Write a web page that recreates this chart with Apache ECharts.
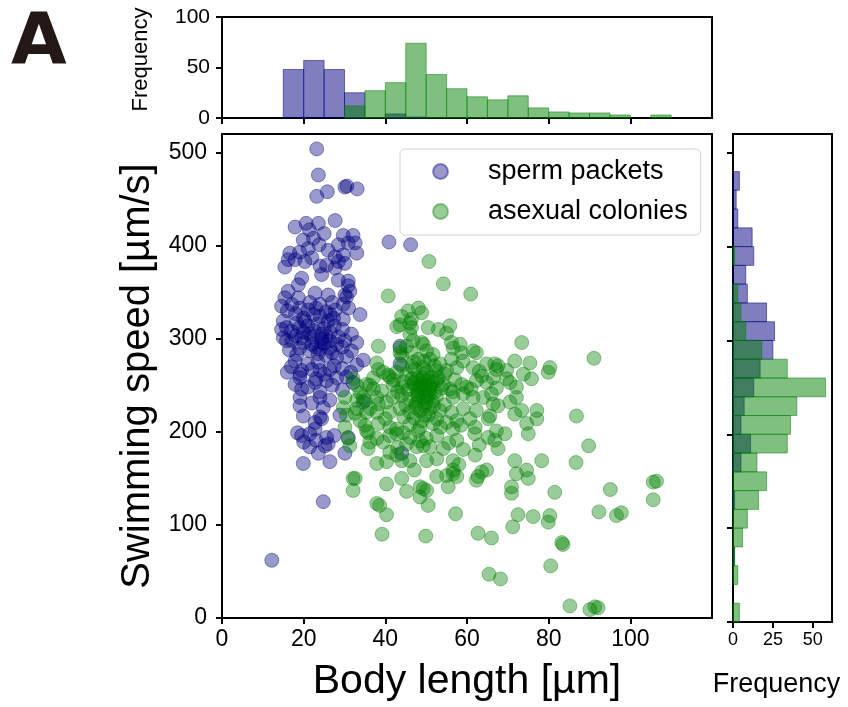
<!DOCTYPE html>
<html><head><meta charset="utf-8">
<script src="https://cdn.jsdelivr.net/npm/echarts@6/dist/echarts.min.js"></script>
<style>html,body{margin:0;padding:0;background:#fff}#main{width:848px;height:707px}</style>
</head><body><div id="main"></div>
<script>
// ---- data ----
const spermPackets = [
[23.2,504],[23.6,476],[30.1,463],[30.6,464],[33.1,461],[25.8,458],[23.2,453],
[27.7,427],[20.6,424],[23.6,424],
[17.9,420],[21.4,417],[25,413],[19.9,406],[22.4,408],[29.7,411],[32.1,411],[40.9,404],[46.2,401],[28.5,401],[30.9,403],[32.6,403],[23.8,401],
[16.6,392],[16.2,385],[17.9,385],[21.1,397],[22,387],[33,392],[27.7,388],[29.7,390],[20.3,383],[28.5,383],[30.1,381],[19,393],[26,395],
[15.4,377],[24,378],[25.6,379],[27.7,376],[24.4,369],[19.5,365],[28.5,363],[30.9,362],
[18.7,358],[30.9,357],[31.3,351],[30.1,347],[16.2,351],[15.4,344],[18.7,344],[22.8,349],[26,347],[30.5,345],
[14.6,335],[17.1,337],[19.1,333],[21.1,331],[24,337],[22.4,326],[29.7,337],[27.7,331],[33.8,326],[24,324],[27.3,322],[29.7,321],[16,330],[18,327],[20,322],[23,333],[25.5,329],[27,339],[31,333],[21.5,339],[26.5,326],
[15,319],[14.6,310],[15.8,312],[18.3,317],[20.3,319],[26,319],[31.7,305],[15,301],[19.5,301],[21.5,305],[24.4,305],[24.4,300],[17,308],[19,312],[21,314],[22.5,309],[23.5,316],[25,311],[26.5,307],[27.5,314],[28.5,302],[29.5,310],[22,302],[20,307],[25.5,303],[18,303],
[17.1,298],[26.4,298],[28.1,294],[30.1,298],[15.8,298],[18.3,283],[21.5,287],[24,289],[26.4,290],[24.4,296],[28.1,280],[30.5,281],[31.7,287],[43.6,292],[22,294],[23,291],[25,295],[20,296],[19,290],[27,285],[29.5,291],[33,296],[16.5,288],[23.5,284],[25.5,282],
[17.9,276],[34.6,277],[43.6,273],[19.5,266],[22,267],[24,266],[26.4,267],[19.1,262],[21,273],[23.5,275],[27.5,271],[29.5,268],[31.5,264],[25,262],[17,270],[33,272],[16,264],
[17.9,251],[19.5,246],[19.1,258],[22.8,253],[25.6,255],[28.1,258],[30.5,259],[32.1,253],[21,248],[24,243],[27,250],[29.5,245],[23,257],
[19.1,237],[19.1,228],[24,237],[26.4,234],[24.8,226],[34.6,232],[22,231],
[24,216],[22.8,210],[28.9,218],[19.9,217],[24.4,214],[22.8,203],
[19.5,196],[21.5,198],[25.6,194],[26,187],[21.5,184],[25.2,185],[30.9,194],[23,191],[20,189],[27.5,196],[18.5,199],
[23.6,177],[19.9,166],[26.4,168],[30.1,177],[44,177],
[24.8,125],[12.2,62]
];
const asexualColonies = [
[50.7,383],
[54.2,359],[60.9,348],[40.7,346],
[44,324],[45.6,330],[48.1,333],[48.9,328],[46.4,321],
[43.6,315],[46.4,312],[46,305],[50.5,312],[53,310],[55.8,314],[55,306],[42.8,313],[46,317],
[73.4,296],[38.3,292],[43.6,290],[46.8,298],[49.3,294],[51.7,283],[56.6,290],[58.3,294],[61.5,287],[43.6,285],[45.2,292],[46.4,285],[44,282],[48.9,296],[50.1,287],[56.2,296],[58.7,285],[62.3,285],
[91.1,279],[71.7,276],[75.4,274],[80.3,269],[64.8,273],[67.6,271],[69.7,266],[79.9,264],[48.1,278],[50.9,278],[53.4,273],[56.2,278],[55,266],[57.5,269],[61.5,269],[66.8,273],[38.3,267],[37.9,274],[40.7,261],[42.8,264],[45.2,262],[47.2,267],[49.3,269],[50.1,264],[52,271],[73.8,262],[67.2,267],[39.5,264],[44,271],[47,275],[52.5,266],[59,276],[63,265],[54.5,262],[46.5,270],[49.5,276],
[37.1,258],[63.6,260],[66.4,258],[36.2,250],[39.1,244],[41.9,251],[44,248],[46.8,251],[48.5,255],[50.9,250],[52.6,255],[54.2,251],[55.8,246],[58.7,251],[59.9,248],[62.3,255],[64.8,253],[67.2,247],[66,241],[47.7,241],[50.9,241],[59.1,241],[69.7,257],[75.8,257],[72.1,248],[70.5,253],
[32.1,257],[33,250],[33.8,242],[35.4,251],[37.1,246],[41.1,259],
[45.5,245],[46.5,257],[47.5,249],[48,244],[48.8,252],[49.2,258],[49.6,246],[50.3,255],[51,247],[51.6,253],[52.2,243],[53,258],[53.8,247],[44.5,254],[43,243],[47,253],[49.8,250],[51.4,259],[57,256],[61,246],[42,256],[56.5,243],[49,243],[50.6,244],[48.7,248],[47.8,257],[49.4,262],
[64,237],[61.5,237],[56.6,237],[30.1,237],[33,234],[34.6,237],[38.3,230],[40.3,232],[41.9,237],[44,239],[46,235],[49.3,237],[37.9,237],[35,234],[29.7,226],[33,225],[36.2,225],[37.9,221],[41.1,221],[43.6,225],[46,221],[48.5,223],[50.9,225],[53.4,223],[56.2,221],[59.1,225],[62.3,223],[66.4,230],[67.6,228],[70.5,232],[72.1,237],[73.4,223],[77.1,223],[47.5,230],[49.5,228],[51.5,233],[48,238],[52.5,238],[54.5,229],[45,229],[50,232],[32.6,220],[35.4,221],[48.2,233],[50.2,238],[47.3,226],[51.8,228],
[30.5,218],[65.6,217],[52.6,214],[55,210],[57.5,212],[60.7,214],[30.1,205],[35.4,201],[41.1,205],[48.5,205],[51.7,209],[56.6,203],[65.2,214],[67.2,201],[86.8,217],[71.7,219],[77.1,214],[74.6,209],[33.8,212],[35,207],[38.3,209],[42.8,203],[47,215],[49,212],[50.5,218],[46,208],[53.5,205],[44.5,216],[58.5,207],[62,205],[40,214],[48,201],[49.6,218],
[31.3,185],[35.8,182],[37.9,193],[39.5,189],[42.8,198],[45.2,187],[46,194],[47.7,184],[49.3,185],[50.9,184],[52.6,196],[54.2,182],[57.5,191],[59.1,181],[61.9,198],[65.2,194],[66.8,191],[89.8,185],[75,198],[69.3,198],[67.6,182],[30.9,193],[35.8,199],[36.2,189],[41.1,196],[44.4,199],[48.5,190],[55.5,188],[63,186],[43,183],[50,193],
[41.1,178],[42.8,175],[37.9,166],[40.3,168],[44,169],[46,169],[50.1,169],[52.6,171],[56.6,169],[71.7,169],[78.3,169],[86.7,167],[62,175],[58,165],
[47.1,159],[56.6,159],[64.8,159],[63.6,157],[62.7,152],[62.3,148],[52.6,152],[55,153],[57.5,152],[56.6,155],[44,150],[32.1,150],[32.6,150],[40.3,144],[74.6,159],[75,150],[72.1,155],[105.6,146],[106.4,147],[70.9,141],[48.5,141],[55.4,141],
[49.3,139],[48.5,130],[50.5,121],[50.1,137],[45.2,136],[32.1,137],[37.9,123],[38.6,121],[70.9,134],[81.5,135],[95.1,138],[105.6,127],
[40.3,111],[57.2,112],[72.5,111],[76.2,109],[80.3,110],[79.9,103],[92.3,114],[96.6,110],[97.8,113],
[71.2,98],[62.7,91],[66,86],[49.9,88],[39.2,90],[83.2,81],
[83.5,79],
[80.5,56],[65.4,47],[68.2,42],
[85.2,13],[90.1,9],[91.3,12],[92.1,11]
];
// Histogram of body length (bins of 5 µm)
const lengthBinStarts = [10,15,20,25,30,35,40,45,50,55,60,65,70,75,80,85,90,95,100,105];
const lengthBinWidth = 5;
const spermLengthCounts  = [0,48,57,48,25,0,4,1,0,0,0,0,0,0,0,0,0,0,0,0];
const colonyLengthCounts = [0,0,0,0,12,27,35,74,43,29,21,18,22,10,6,5,5,3,0,3];
// Histogram of swimming speed (bins of 20 µm/s)
const speedBinStarts = [0,20,40,60,80,100,120,140,160,180,200,220,240,260,280,300,320,340,360,380,400,420,440,460,480,500];
const speedBinWidth = 20;
const spermSpeedCounts  = [0,0,0,1,0,0,1,0,5,11,5,7,13,17,25,26,21,9,8,13,12,3,2,4,0,0];
const colonySpeedCounts = [4,0,3,1,6,9,16,21,15,34,36,40,58,34,18,8,5,3,0,1,0,0,0,0,0,0];
// Tick values
const lengthTicks = [0,20,40,60,80,100];
const speedTicks = [0,100,200,300,400,500];
const topFreqTicks = [0,50,100];
const rightFreqTicks = [0,25,50];

// ---- chart ----
const FONT = 'Liberation Sans, Arial, Helvetica, sans-serif';
const BLUE = 'rgba(0,0,128,0.5)';
const GREEN = 'rgba(0,128,0,0.5)';

function binData(starts, width, counts) {
  return starts.map((s, i) => [s, s + width, counts[i]]).filter(d => d[2] > 0);
}
function vertHist(params, api) {
  const p0 = api.coord([api.value(0), api.value(2)]);
  const p1 = api.coord([api.value(1), 0]);
  return {type: 'rect', shape: {x: p0[0], y: p0[1], width: p1[0] - p0[0], height: p1[1] - p0[1]},
          style: {fill: api.visual('color'), stroke: api.visual('color'), lineWidth: 1}};
}
function horizHist(params, api) {
  const p0 = api.coord([0, api.value(1)]);
  const p1 = api.coord([api.value(2), api.value(0)]);
  return {type: 'rect', shape: {x: p0[0], y: p0[1], width: p1[0] - p0[0], height: p1[1] - p0[1]},
          style: {fill: api.visual('color'), stroke: api.visual('color'), lineWidth: 1}};
}

const axisLine = {show: true, onZero: false, lineStyle: {color: '#000', width: 2}};
const tickStyle = {color: '#000', width: 2};

const option = {
  animation: false,
  backgroundColor: '#fff',
  textStyle: {fontFamily: FONT, color: '#000'},
  grid: [
    {left: 222, top: 134, width: 490, height: 488, show: true, borderColor: '#000', borderWidth: 2, backgroundColor: 'transparent'},
    {left: 222, top: 17, width: 490, height: 101, show: true, borderColor: '#000', borderWidth: 2, backgroundColor: 'transparent'},
    {left: 733, top: 134, width: 99, height: 488, show: true, borderColor: '#000', borderWidth: 2, backgroundColor: 'transparent'}
  ],
  xAxis: [
    {gridIndex: 0, type: 'value', min: 0, max: 120, interval: 20, axisLine,
     axisTick: {show: true, length: 6, lineStyle: tickStyle, customValues: lengthTicks},
     axisLabel: {fontSize: 23, color: '#000', margin: 10, fontFamily: FONT, customValues: lengthTicks},
     splitLine: {show: false},
     name: 'Body length [µm]', nameLocation: 'middle', nameGap: 43,
     nameTextStyle: {fontSize: 41, color: '#000', fontFamily: FONT}},
    {gridIndex: 1, type: 'value', min: 0, max: 120, interval: 20, axisLine,
     axisTick: {show: true, length: 6, lineStyle: tickStyle, customValues: lengthTicks},
     axisLabel: {show: false}, splitLine: {show: false}},
    {gridIndex: 2, type: 'value', min: 0, max: 62, interval: 25, axisLine,
     axisTick: {show: true, length: 6, lineStyle: tickStyle, customValues: rightFreqTicks},
     axisLabel: {fontSize: 18, color: '#000', margin: 9, fontFamily: FONT, customValues: rightFreqTicks},
     splitLine: {show: false},
     name: 'Frequency', nameLocation: 'middle', nameGap: 49,
     nameTextStyle: {fontSize: 27, color: '#000', fontFamily: FONT, padding: [0, 12, 0, 0]}}
  ],
  yAxis: [
    {gridIndex: 0, type: 'value', min: 0, max: 520, interval: 100, axisLine,
     axisTick: {show: true, length: 6, lineStyle: tickStyle, customValues: speedTicks},
     axisLabel: {fontSize: 23, color: '#000', margin: 15, fontFamily: FONT, customValues: speedTicks},
     splitLine: {show: false},
     name: 'Swimming speed [µm/s]', nameLocation: 'middle', nameGap: 62,
     nameTextStyle: {fontSize: 40, color: '#000', fontFamily: FONT}},
    {gridIndex: 1, type: 'value', min: 0, max: 100, interval: 50, axisLine,
     axisTick: {show: true, length: 6, lineStyle: tickStyle, customValues: topFreqTicks},
     axisLabel: {fontSize: 21, color: '#000', margin: 12, fontFamily: FONT, customValues: topFreqTicks},
     splitLine: {show: false},
     name: 'Frequency', nameLocation: 'middle', nameGap: 70,
     nameTextStyle: {fontSize: 22, color: '#000', fontFamily: FONT, padding: [0, 0, 0, 16]}},
    {gridIndex: 2, type: 'value', min: 0, max: 520, interval: 100, axisLine,
     axisTick: {show: true, length: 6, lineStyle: tickStyle, customValues: speedTicks},
     axisLabel: {show: false}, splitLine: {show: false}}
  ],
  legend: {
    data: ['sperm packets', 'asexual colonies'],
    orient: 'vertical', left: 400, top: 149,
    padding: [9, 13, 10, 32], itemGap: 13,
    itemWidth: 15, itemHeight: 15, icon: 'circle',
    backgroundColor: 'rgba(255,255,255,0.8)', borderColor: '#d4d4d4', borderWidth: 1, borderRadius: 5,
    textStyle: {fontSize: 27, color: '#000', fontFamily: FONT, padding: [0, 0, 0, 35]}
  },
  graphic: [
    {type: 'text', left: 11, top: 8, style: {text: 'A', font: 'bold 72px DejaVu Sans, ' + FONT, fill: '#231815'}}
  ],
  series: [
    {name: 'sperm packets', type: 'scatter', xAxisIndex: 0, yAxisIndex: 0, data: spermPackets,
     symbol: 'circle', symbolSize: 14,
     itemStyle: {color: BLUE, borderColor: BLUE, borderWidth: 1}},
    {name: 'asexual colonies', type: 'scatter', xAxisIndex: 0, yAxisIndex: 0, data: asexualColonies,
     symbol: 'circle', symbolSize: 14,
     itemStyle: {color: GREEN, borderColor: GREEN, borderWidth: 1}},
    {name: 'sperm length hist', type: 'custom', xAxisIndex: 1, yAxisIndex: 1,
     data: binData(lengthBinStarts, lengthBinWidth, spermLengthCounts),
     encode: {x: [0, 1], y: 2}, renderItem: vertHist, itemStyle: {color: BLUE}},
    {name: 'colony length hist', type: 'custom', xAxisIndex: 1, yAxisIndex: 1,
     data: binData(lengthBinStarts, lengthBinWidth, colonyLengthCounts),
     encode: {x: [0, 1], y: 2}, renderItem: vertHist, itemStyle: {color: GREEN}},
    {name: 'sperm speed hist', type: 'custom', xAxisIndex: 2, yAxisIndex: 2,
     data: binData(speedBinStarts, speedBinWidth, spermSpeedCounts),
     encode: {x: 2, y: [0, 1]}, renderItem: horizHist, itemStyle: {color: BLUE}},
    {name: 'colony speed hist', type: 'custom', xAxisIndex: 2, yAxisIndex: 2,
     data: binData(speedBinStarts, speedBinWidth, colonySpeedCounts),
     encode: {x: 2, y: [0, 1]}, renderItem: horizHist, itemStyle: {color: GREEN}}
  ]
};
const chart = echarts.init(document.getElementById('main'), null, {renderer: 'canvas'});
chart.setOption(option);
</script>
</body></html>
